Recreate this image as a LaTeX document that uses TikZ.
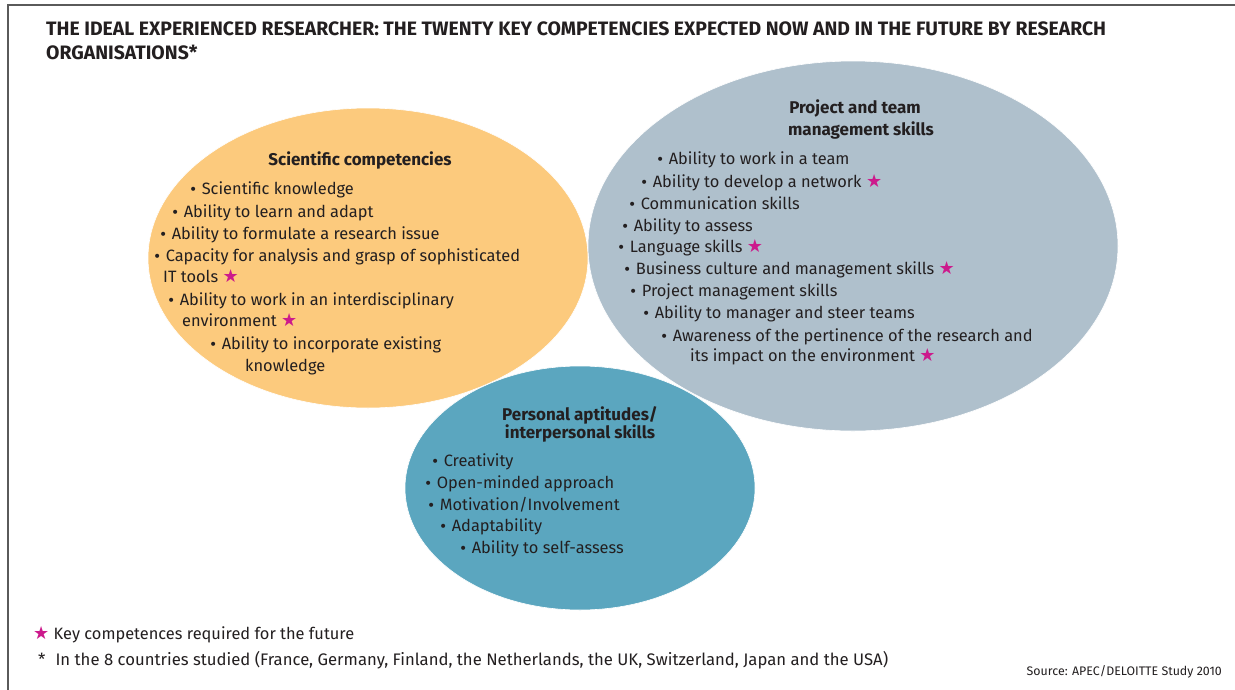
\documentclass[tikz,border=0pt]{standalone}
\usepackage{fontspec}
\setmainfont{Fira Sans}
\newfontfamily\symfont{DejaVu Sans}
\usetikzlibrary{shapes.geometric}
\definecolor{orangefill}{HTML}{FCCA7D}
\definecolor{grayfill}{HTML}{AFC0CC}
\definecolor{tealfill}{HTML}{5BA6BF}
\definecolor{starc}{HTML}{CC1A8C}
\definecolor{txt}{HTML}{231F20}
\definecolor{framec}{HTML}{5A5A5A}
\newcommand\kstar{{\symfont\color{starc}\fontsize{18}{18}\selectfont ★}}
\newcommand\bul{{\symfont\fontsize{14}{14}\selectfont •}\ }
\begin{document}
\begin{tikzpicture}[x=1pt,y=-1pt,
  blob/.style={ellipse, inner sep=0pt, draw=white, line width=0.6pt},
  item/.style={anchor=mid west, inner sep=0pt, yshift=-3pt, font=\fontsize{16.4}{18}\selectfont, text=txt},
  head/.style={anchor=mid, inner sep=0pt, yshift=-3pt, font=\fontsize{17}{18}\selectfont\bfseries, text=txt},
  titletext/.style={anchor=base west, inner sep=0pt, yshift=-2pt, font=\fontsize{19.4}{22}\selectfont\bfseries, text=txt},
  note/.style={anchor=mid west, inner sep=0pt, yshift=-3pt, font=\fontsize{16.4}{18}\selectfont, text=txt},
  srcnote/.style={anchor=mid east, inner sep=0pt, yshift=-2pt, font=\fontsize{12.4}{14}\selectfont, text=txt}]
\useasboundingbox (0,0) rectangle (1235,689);
\fill[white] (0,0) rectangle (1235,689);
\draw[line width=2pt, draw=framec] (8,695) -- (8,5) -- (1240,5);

% title
\node[titletext] (t1) at (46,33) {THE IDEAL EXPERIENCED RESEARCHER: THE TWENTY KEY COMPETENCIES EXPECTED NOW AND IN THE FUTURE BY RESEARCH};
\node[titletext] (t2) at (46,57) {ORGANISATIONS*};

% ellipses
\node[blob, fill=orangefill, minimum width=440pt, minimum height=300pt] (sci) at (368,258) {};
\node[blob, fill=grayfill, minimum width=530pt, minimum height=370pt] (proj) at (853,246) {};
\node[blob, fill=tealfill, minimum width=350pt, minimum height=244pt] (pers) at (580,488) {};

% scientific competencies
\node[head] (sh) at (360,160) {Scientific competencies};
\node[item] (s1) at (189,189) {\bul Scientific knowledge};
\node[item] (s2) at (171,212) {\bul Ability to learn and adapt};
\node[item] (s3) at (159,234) {\bul Ability to formulate a research issue};
\node[item] (s4) at (153,256) {\bul Capacity for analysis and grasp of sophisticated};
\node[item] (s4b) at (163,277) {IT tools \kstar};
\node[item] (s5) at (167,300) {\bul Ability to work in an interdisciplinary};
\node[item] (s5b) at (182,321) {environment \kstar};
\node[item] (s6) at (209,344) {\bul Ability to incorporate existing};
\node[item] (s6b) at (245,366) {knowledge};

% project and team management skills
\node[head] (ph1) at (855,108) {Project and team};
\node[head] (ph2) at (861,130) {management skills};
\node[item] (p1) at (656,159) {\bul Ability to work in a team};
\node[item] (p2) at (640,182) {\bul Ability to develop a network \kstar};
\node[item] (p3) at (628,204) {\bul Communication skills};
\node[item] (p4) at (621,226) {\bul Ability to assess};
\node[item] (p5) at (617,247) {\bul Language skills \kstar};
\node[item] (p6) at (623,269) {\bul Business culture and management skills \kstar};
\node[item] (p7) at (629,291) {\bul Project management skills};
\node[item] (p8) at (642,313) {\bul Ability to manager and steer teams};
\node[item] (p9) at (660,336) {\bul Awareness of the pertinence of the research and};
\node[item] (p9b) at (690,356) {its impact on the environment \kstar};

% personal aptitudes
\node[head] (ah1) at (580,415) {Personal aptitudes/};
\node[head] (ah2) at (580,433) {interpersonal skills};
\node[item] (a1) at (431,461) {\bul Creativity};
\node[item] (a2) at (424,483) {\bul Open-minded approach};
\node[item] (a3) at (427,505) {\bul Motivation/Involvement};
\node[item] (a4) at (439,526) {\bul Adaptability};
\node[item] (a5) at (459,548) {\bul Ability to self-assess};

% notes
\node[note] (n1) at (33,634) {\kstar\ Key competences required for the future};
\node[note, font=\fontsize{16.7}{18}\selectfont] (n2) at (38,660) {*\hspace{0.6em}In the 8 countries studied (France, Germany, Finland, the Netherlands, the UK, Switzerland, Japan and the USA)};
\node[srcnote] (src) at (1222,671) {Source: APEC/DELOITTE Study 2010};
\end{tikzpicture}
\end{document}
